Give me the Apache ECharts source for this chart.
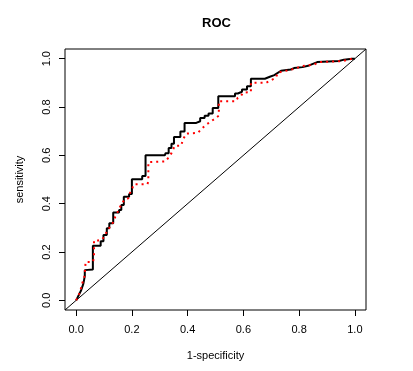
<!DOCTYPE html>
<html>
<head>
<meta charset="utf-8">
<script src="https://cdn.jsdelivr.net/npm/echarts@6/dist/echarts.min.js"></script>
<style>html,body{margin:0;padding:0;background:#fff}#c{width:413px;height:371px}</style>
</head>
<body>
<div id="c"></div>
<script>
// ---- data ----
const titleText = "ROC";
const xName = "1-specificity";
const yName = "sensitivity";
const tickValues = [0, 0.2, 0.4, 0.6, 0.8, 1.0];

// solid black ROC curve: [1-specificity, sensitivity]
const rocBlack = [
  [0,0],[0.018,0.042],[0.026,0.069],[0.031,0.1],[0.031,0.125],[0.06,0.128],[0.06,0.226],
  [0.088,0.226],[0.088,0.245],[0.098,0.245],[0.098,0.27],[0.11,0.27],[0.11,0.298],
  [0.119,0.298],[0.119,0.319],[0.133,0.319],[0.133,0.363],[0.154,0.363],[0.154,0.374],
  [0.162,0.374],[0.162,0.395],[0.171,0.395],[0.171,0.429],[0.19,0.429],[0.19,0.44],
  [0.2,0.44],[0.2,0.501],[0.237,0.501],[0.237,0.515],[0.249,0.515],[0.249,0.6],
  [0.318,0.6],[0.321,0.609],[0.332,0.609],[0.332,0.63],[0.342,0.63],[0.342,0.648],
  [0.351,0.648],[0.351,0.676],[0.374,0.676],[0.374,0.699],[0.389,0.699],[0.389,0.734],
  [0.431,0.734],[0.431,0.741],[0.445,0.741],[0.445,0.755],[0.461,0.755],[0.461,0.764],
  [0.475,0.764],[0.475,0.773],[0.49,0.773],[0.49,0.796],[0.51,0.796],[0.51,0.845],
  [0.57,0.845],[0.57,0.856],[0.58,0.856],[0.58,0.863],[0.595,0.863],[0.595,0.872],
  [0.613,0.872],[0.613,0.886],[0.627,0.886],[0.627,0.917],[0.677,0.917],[0.681,0.925],
  [0.695,0.925],[0.695,0.932],[0.711,0.932],[0.717,0.94],[0.735,0.95],[0.77,0.955],
  [0.782,0.961],[0.812,0.965],[0.836,0.972],[0.865,0.986],[0.943,0.99],[0.961,0.996],
  [0.99,1.0],[1,1]
];

// dotted red ROC curve
const rocRed = [
  [0,0],[0.005,0.01],[0.014,0.035],[0.022,0.07],[0.03,0.1],[0.034,0.159],[0.06,0.159],
  [0.064,0.175],[0.064,0.248],[0.08,0.248],[0.092,0.25],[0.1,0.263],[0.11,0.284],
  [0.122,0.305],[0.134,0.325],[0.14,0.345],[0.148,0.363],[0.163,0.4],[0.175,0.418],
  [0.187,0.422],[0.193,0.443],[0.202,0.465],[0.207,0.48],[0.255,0.48],[0.259,0.49],
  [0.259,0.572],[0.321,0.575],[0.33,0.589],[0.342,0.609],[0.354,0.64],[0.377,0.64],
  [0.383,0.665],[0.395,0.69],[0.437,0.693],[0.449,0.709],[0.467,0.727],[0.493,0.748],
  [0.512,0.764],[0.512,0.824],[0.574,0.824],[0.58,0.838],[0.592,0.847],[0.598,0.859],
  [0.627,0.862],[0.627,0.9],[0.681,0.9],[0.693,0.907],[0.717,0.921],[0.723,0.942],
  [0.776,0.956],[0.812,0.969],[0.854,0.976],[0.871,0.986],[0.955,0.99],[0.99,1.0],[1,1]
];

// reference diagonal (abline 0,1) across the plot region
const diagonal = [[-0.04,-0.04],[1.04,1.04]];
const axisMin = -0.04, axisMax = 1.04;

const FONT = "'Liberation Sans', Arial, Helvetica, sans-serif";
const chart = echarts.init(document.getElementById('c'), null, {renderer: 'canvas'});
const axisCommon = {
  type: 'value', min: axisMin, max: axisMax,
  axisLine: {show: false, onZero: false},
  splitLine: {show: false},
  axisTick: {show: true, inside: false, length: 6, customValues: tickValues,
             lineStyle: {color: '#000', width: 1}},
  axisLabel: {customValues: tickValues, color: '#000', fontFamily: FONT, fontSize: 11,
              formatter: v => v.toFixed(1)},
  nameLocation: 'middle',
  nameTextStyle: {color: '#000', fontFamily: FONT, fontSize: 11}
};
chart.setOption({
  animation: false,
  backgroundColor: '#fff',
  title: {text: titleText, left: 197, top: 12,
          textStyle: {fontFamily: FONT, fontSize: 13, fontWeight: 'bold', color: '#000'}},
  grid: {left: 65, right: 47, top: 49, bottom: 61, show: true,
         borderColor: '#000', borderWidth: 1, backgroundColor: 'transparent'},
  xAxis: Object.assign({}, axisCommon, {
    name: xName, nameGap: 40,
    axisLabel: Object.assign({}, axisCommon.axisLabel, {margin: 14})
  }),
  yAxis: Object.assign({}, axisCommon, {
    name: yName, nameGap: 40,
    axisLabel: Object.assign({}, axisCommon.axisLabel, {margin: 13, rotate: 90})
  }),
  series: [
    {type: 'line', data: diagonal, symbol: 'none', silent: true,
     lineStyle: {color: '#000', width: 1}, z: 1},
    {type: 'line', data: rocBlack, symbol: 'none', silent: true,
     lineStyle: {color: '#000', width: 2}, z: 2},
    {type: 'line', data: rocRed, symbol: 'none', silent: true,
     lineStyle: {color: '#ff0000', width: 2, type: [2, 4]}, z: 3}
  ]
});
</script>
</body>
</html>
